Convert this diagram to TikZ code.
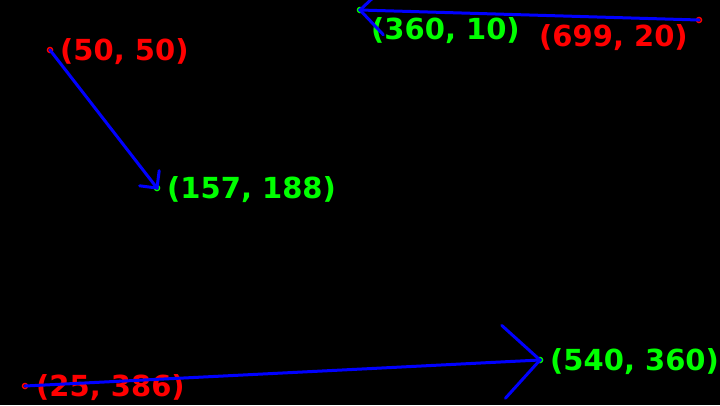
\documentclass[tikz,border=0pt]{standalone}
\usepackage{fontspec}
\newfontfamily\lblfont{DejaVu Sans}[BoldFont={DejaVu Sans Bold}]
\usetikzlibrary{calc}
\definecolor{cvred}{RGB}{255,0,0}
\definecolor{cvgreen}{RGB}{0,255,0}
\definecolor{cvblue}{RGB}{0,0,255}
\begin{document}
\begin{tikzpicture}[x=1pt,y=-1pt,
  lbl/.style={inner sep=0pt,anchor=base west,font=\lblfont\bfseries\fontsize{29}{29}\selectfont},
  redlbl/.style={lbl,text=cvred},
  greenlbl/.style={lbl,text=cvgreen},
  arrowline/.style={draw=cvblue,line width=3pt,line cap=round},
  startdot/.style={draw=cvred,line width=1.5pt},
  enddot/.style={draw=cvgreen,line width=1.5pt}]
\fill[black] (0,0) rectangle (720,405);
\useasboundingbox (0,0) rectangle (720,405);
% points
\coordinate (s1) at (50,50);   \coordinate (e1) at (157,188);
\coordinate (s2) at (699,20);  \coordinate (e2) at (360,10);
\coordinate (s3) at (25,386);  \coordinate (e3) at (540,360);
% labels
\node[redlbl]   (ls1) at (60,60)   {(50, 50)};
\node[greenlbl] (le1) at (167,198) {(157, 188)};
\node[greenlbl] (le2) at (371,39)  {(360, 10)};
\node[redlbl]   (ls2) at (539,46)  {(699, 20)};
\node[redlbl]   (ls3) at (36,396)  {(25, 386)};
\node[greenlbl] (le3) at (550,370) {(540, 360)};
% dots
\foreach \p in {s1,s2,s3} \draw[startdot] (\p) circle (2.5);
\foreach \p in {e1,e2,e3} \draw[enddot] (\p) circle (2.5);
% arrows
\draw[arrowline] (s1) -- (e1);
\draw[arrowline] ($(e1)!17.5pt!45:(s1)$) -- (e1) -- ($(e1)!17.5pt!-45:(s1)$);
\draw[arrowline] (s2) -- (e2);
\draw[arrowline] ($(e2)!34pt!45:(s2)$) -- (e2) -- ($(e2)!34pt!-45:(s2)$);
\draw[arrowline] (s3) -- (e3);
\draw[arrowline] ($(e3)!51.5pt!45:(s3)$) -- (e3) -- ($(e3)!51.5pt!-45:(s3)$);
\end{tikzpicture}
\end{document}
